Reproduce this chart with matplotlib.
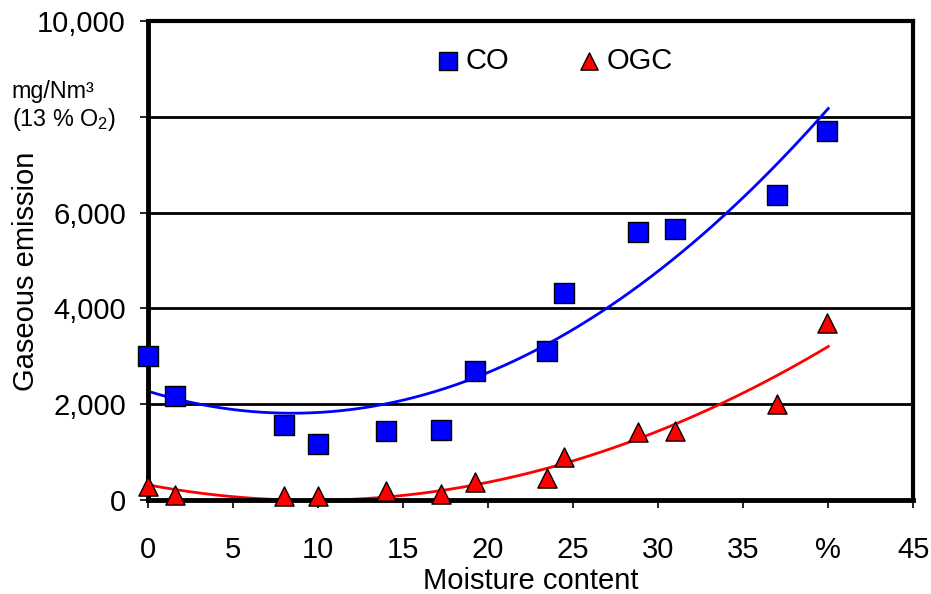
import numpy as np
import matplotlib
matplotlib.use("Agg")
import matplotlib.pyplot as plt

plt.rcParams['font.family'] = ['Liberation Sans', 'DejaVu Sans']
plt.rcParams['mathtext.fontset'] = 'custom'
plt.rcParams['mathtext.rm'] = 'Liberation Sans'
plt.rcParams['mathtext.it'] = 'Liberation Sans:italic'
plt.rcParams['mathtext.bf'] = 'Liberation Sans:bold'

# Data
co_x = [0, 1.6, 8.0, 10.0, 14.0, 17.2, 19.2, 23.45, 24.45, 28.8, 31.0, 37.0, 39.9]
co_y = [3000, 2170, 1570, 1170, 1440, 1460, 2690, 3110, 4320, 5595, 5660, 6370, 7700]
ogc_x = [0, 1.6, 8.0, 10.0, 14.0, 17.2, 19.2, 23.45, 24.45, 28.8, 31.0, 37.0, 39.9]
ogc_y = [300, 100, 80, 80, 200, 130, 370, 460, 905, 1425, 1450, 2000, 3700]

x_ticks = [0, 5, 10, 15, 20, 25, 30, 35, 40, 45]
x_ticklabels = ['0', '5', '10', '15', '20', '25', '30', '35', '%', '45']
y_ticks = [0, 2000, 4000, 6000, 8000, 10000]
y_ticklabels = ['0', '2,000', '4,000', '6,000', '', '10,000']

FS = 21

fig = plt.figure(figsize=(9.31, 5.94), dpi=100)
ax = fig.add_axes([0.159, 0.158, 0.822, 0.807])

ax.set_xlim(0, 45)
ax.set_ylim(0, 10000)

for yv in [2000, 4000, 6000, 8000]:
    ax.axhline(yv, color='black', lw=2.0, zorder=1)

# Trend lines (polynomial fits of the data)
xs = np.linspace(0, 40, 200)
pc = np.polyfit(co_x, co_y, 2)
po = np.polyfit(ogc_x, ogc_y, 2)
ax.plot(xs, np.polyval(pc, xs), color='#0000ff', lw=2.0, zorder=2, clip_on=False)
ax.plot(xs, np.polyval(po, xs), color='#ff0000', lw=2.0, zorder=2, clip_on=False)

ax.scatter(co_x, co_y, marker='s', s=190, c='#0000ff', edgecolors='black',
           linewidths=1.0, zorder=3, clip_on=False, label='CO')
ax.scatter(ogc_x, ogc_y, marker='^', s=190, c='#ff0000', edgecolors='black',
           linewidths=1.0, zorder=3, clip_on=False, label='OGC')

ax.set_xticks(x_ticks)
ax.set_xticklabels(x_ticklabels, fontsize=FS)
ax.set_yticks(y_ticks)
ax.set_yticklabels(y_ticklabels, fontsize=FS)
ax.tick_params(axis='both', direction='out', length=6, width=1.2, color='black')
ax.tick_params(axis='x', pad=20)
ax.tick_params(axis='y', pad=10)

ax.text(-0.042, 8215, 'mg/Nm³\n(13 % O$_2$)', transform=ax.get_yaxis_transform(),
        ha='right', va='center', multialignment='left', fontsize=16.8, linespacing=1.15)

for side in ['left', 'bottom']:
    ax.spines[side].set_linewidth(3.5)
for side in ['top', 'right']:
    ax.spines[side].set_linewidth(3.0)

ax.set_xlabel('Moisture content', fontsize=FS, labelpad=2)
ax.set_ylabel('Gaseous emission', fontsize=FS)
ax.yaxis.set_label_coords(-0.141, 0.478)

leg = ax.legend(loc='upper center', bbox_to_anchor=(0.52, 1.0), ncol=2, frameon=False,
                fontsize=FS, handletextpad=-0.4, columnspacing=1.75, markerscale=0.9,
                scatterpoints=1)

fig.savefig('out.png', dpi=100)
